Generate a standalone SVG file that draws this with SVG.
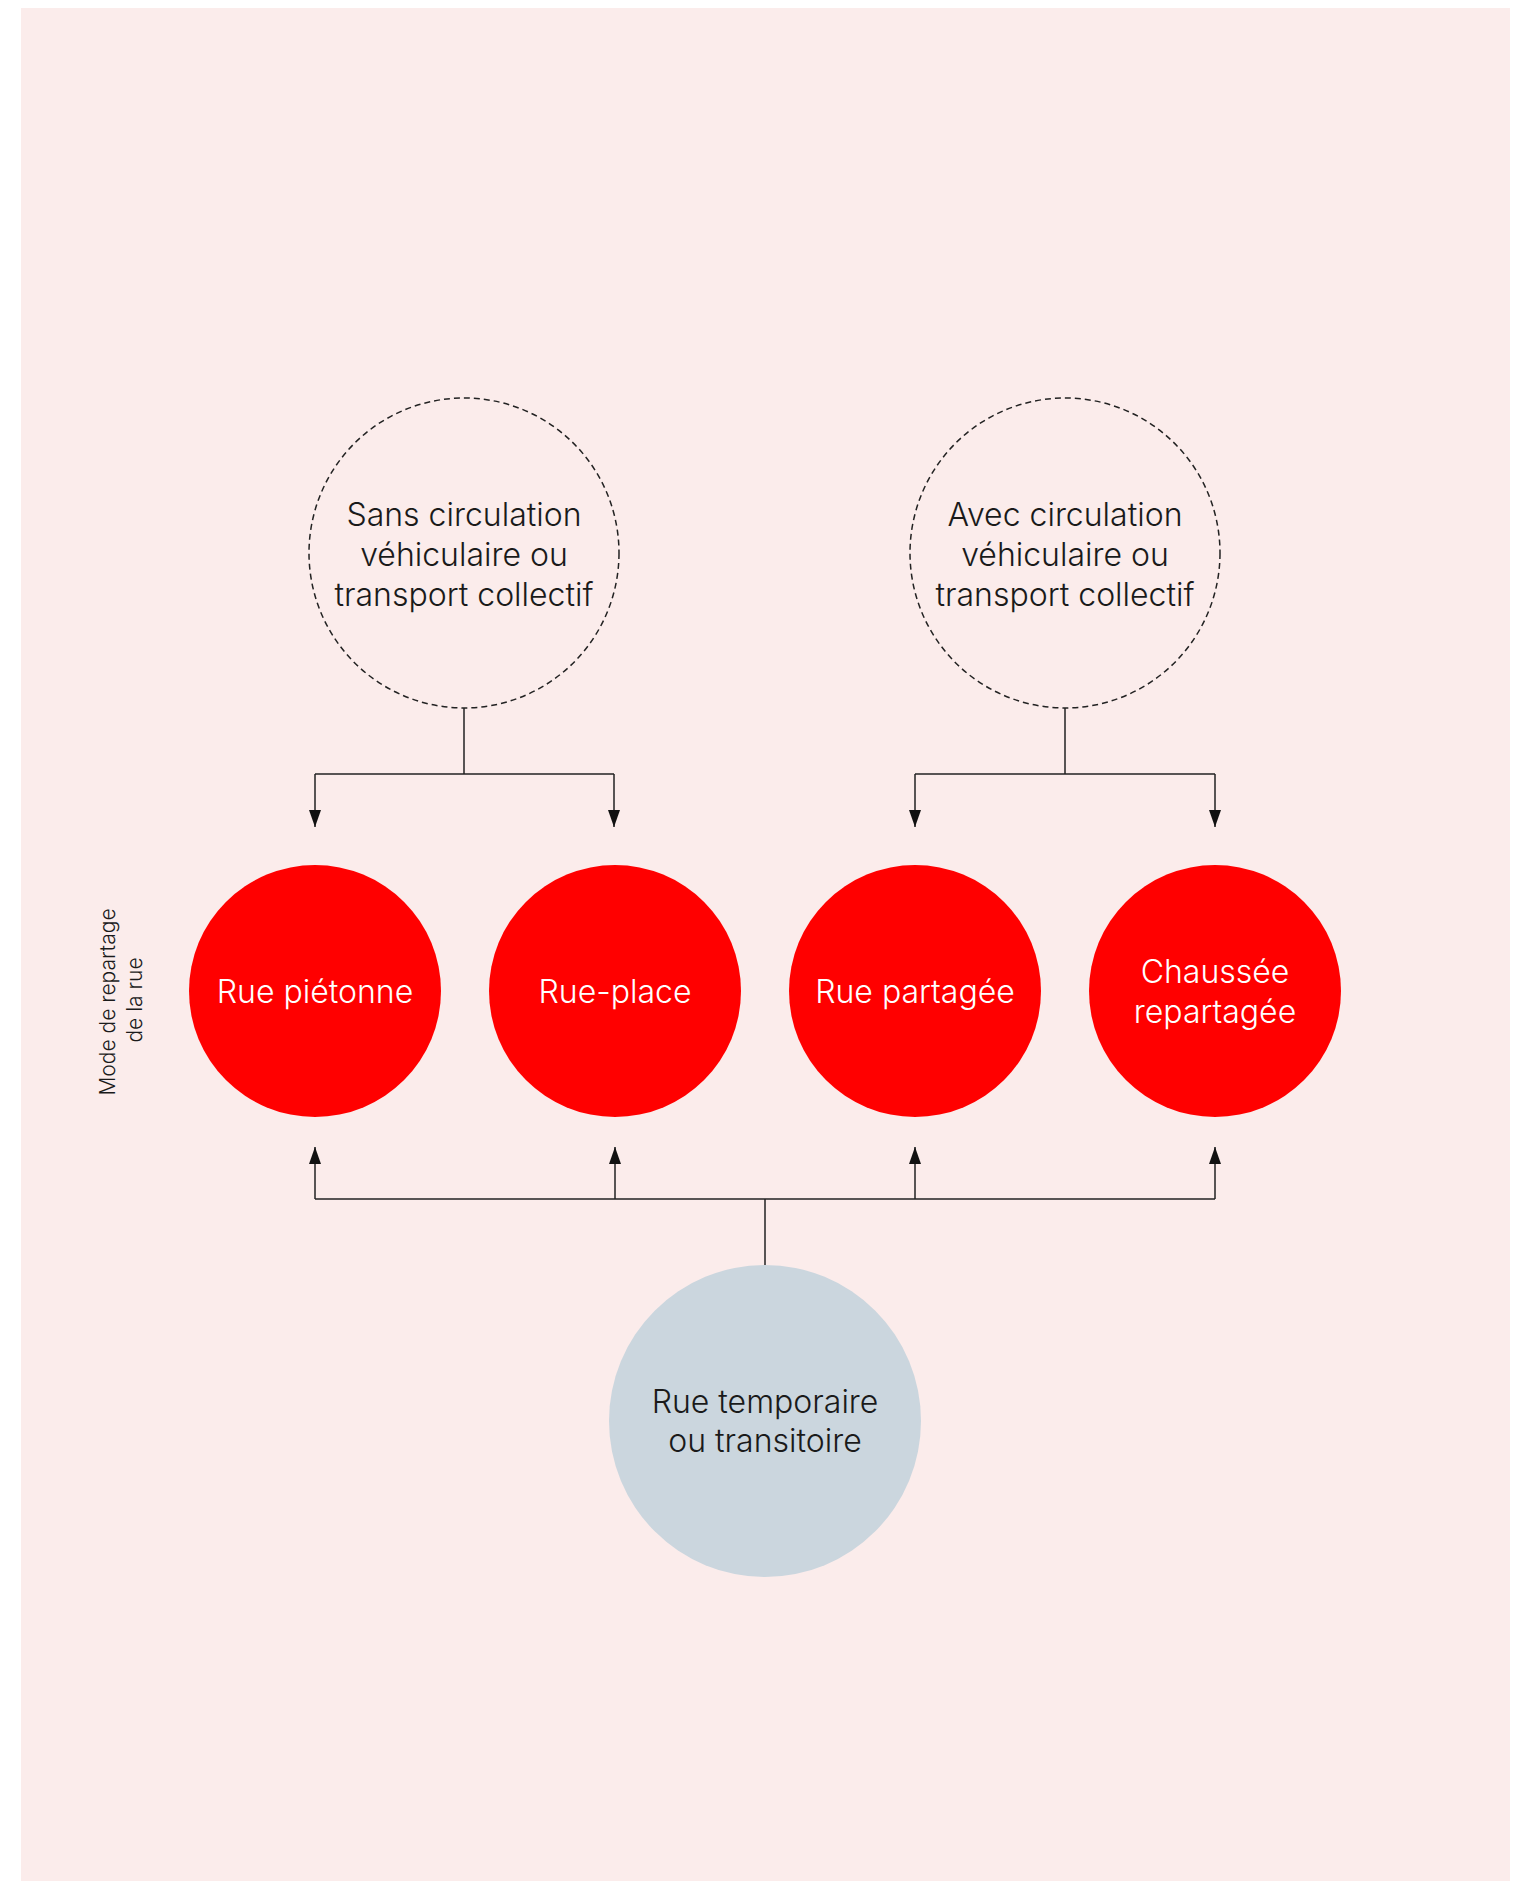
<svg xmlns="http://www.w3.org/2000/svg" width="1515" height="1881" viewBox="0 0 1515 1881">
<style>
.bg{fill:#FBECEB}
.dash{fill:none;stroke:#222;stroke-width:1.5;stroke-dasharray:6 4}
.red{fill:#FF0000}
.gray{fill:#CBD6DE}
.t{font-family:Inter,"Noto Sans","Liberation Sans",sans-serif;font-size:32px;text-anchor:middle}
.dark{fill:#1a1a1a;font-weight:300}
.white{fill:#fff;font-weight:300}
.side{font-family:Inter,"Noto Sans","Liberation Sans",sans-serif;font-size:21px;text-anchor:middle;fill:#1a1a1a;font-weight:300}
.conn{fill:none;stroke:#222;stroke-width:1.5}
</style>
<defs>
<marker id="ah" markerUnits="userSpaceOnUse" markerWidth="17" markerHeight="12" viewBox="0 0 17 12" refX="17" refY="6" orient="auto">
<path d="M0,0 L17,6 L0,12 Z" fill="#111"/>
</marker>
</defs>
<rect class="bg" x="21" y="8" width="1489" height="1873"/>
<g id="connectors">
<path class="conn" d="M464,708 V774"/>
<path class="conn" d="M315,774 H614"/>
<path class="conn" d="M315,774 V827" marker-end="url(#ah)"/>
<path class="conn" d="M614,774 V827" marker-end="url(#ah)"/>
<path class="conn" d="M1065,708 V774"/>
<path class="conn" d="M915,774 H1215"/>
<path class="conn" d="M915,774 V827" marker-end="url(#ah)"/>
<path class="conn" d="M1215,774 V827" marker-end="url(#ah)"/>
<path class="conn" d="M765,1265 V1199"/>
<path class="conn" d="M315,1199 H1215"/>
<path class="conn" d="M315,1199 V1147" marker-end="url(#ah)"/>
<path class="conn" d="M615,1199 V1147" marker-end="url(#ah)"/>
<path class="conn" d="M915,1199 V1147" marker-end="url(#ah)"/>
<path class="conn" d="M1215,1199 V1147" marker-end="url(#ah)"/>
</g>
<g id="sans">
<circle class="dash" cx="464" cy="553" r="155"/>
<text class="t dark" x="464" y="526">Sans circulation</text>
<text class="t dark" x="464" y="566">véhiculaire ou</text>
<text class="t dark" x="464" y="606">transport collectif</text>
</g>
<g id="avec">
<circle class="dash" cx="1065" cy="553" r="155"/>
<text class="t dark" x="1065" y="526">Avec circulation</text>
<text class="t dark" x="1065" y="566">véhiculaire ou</text>
<text class="t dark" x="1065" y="606">transport collectif</text>
</g>
<g id="label">
<text class="side" transform="translate(115,1002) rotate(-90)">Mode de repartage</text>
<text class="side" transform="translate(142,1000) rotate(-90)">de la rue</text>
</g>
<g id="pietonne">
<circle class="red" cx="315" cy="991" r="126"/>
<text class="t white" x="315" y="1003">Rue piétonne</text>
</g>
<g id="place">
<circle class="red" cx="615" cy="991" r="126"/>
<text class="t white" x="615" y="1003">Rue-place</text>
</g>
<g id="partagee">
<circle class="red" cx="915" cy="991" r="126"/>
<text class="t white" x="915" y="1003">Rue partagée</text>
</g>
<g id="chaussee">
<circle class="red" cx="1215" cy="991" r="126"/>
<text class="t white" x="1215" y="983">Chaussée</text>
<text class="t white" x="1215" y="1023">repartagée</text>
</g>
<g id="temporaire">
<circle class="gray" cx="765" cy="1421" r="156"/>
<text class="t dark" x="765" y="1413">Rue temporaire</text>
<text class="t dark" x="765" y="1452">ou transitoire</text>
</g>
</svg>
